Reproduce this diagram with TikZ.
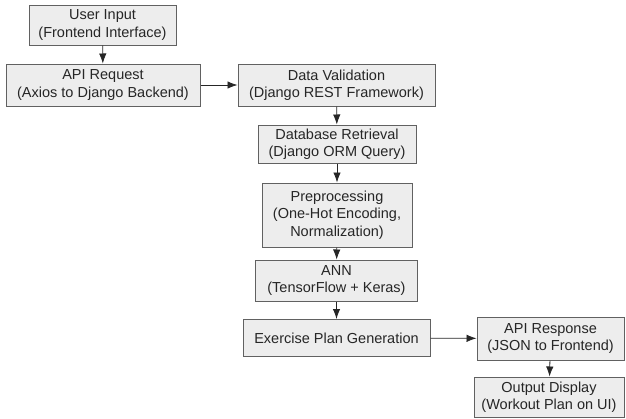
\documentclass[tikz,border=0pt]{standalone}
\usepackage{fontspec}
\setmainfont{Liberation Sans}
\usetikzlibrary{arrows.meta}
\tikzset{
  stage/.style={draw=black!62, line width=1pt, fill=black!7, align=center,
    inner sep=0pt, font=\fontsize{14.5pt}{17.5pt}\selectfont, text=black!85},
  flow/.style={draw=black!85, line width=0.8pt, -{Latex[length=10pt,width=7.5pt]}}
}
\begin{document}
\begin{tikzpicture}[x=1pt,y=1pt]
\useasboundingbox (0,0) rectangle (626,-418);
\node[stage, minimum width=147, minimum height=40] (user) at (102.5,-25) {User Input\\(Frontend Interface)};
\node[stage, minimum width=194, minimum height=42] (req) at (103,-85) {API Request\\(Axios to Django Backend)};
\node[stage, minimum width=197, minimum height=42] (valid) at (336.5,-85) {Data Validation\\(Django REST Framework)};
\node[stage, minimum width=158, minimum height=38] (db) at (337,-144) {Database Retrieval\\(Django ORM Query)};
\node[stage, minimum width=150, minimum height=64] (pre) at (337,-215) {Preprocessing\\(One-Hot Encoding,\\Normalization)};
\node[stage, minimum width=162, minimum height=41] (ann) at (336.5,-280.5) {ANN\\(TensorFlow + Keras)};
\node[stage, minimum width=187, minimum height=37] (plan) at (336.5,-338) {Exercise Plan Generation};
\node[stage, minimum width=147, minimum height=43] (resp) at (550.5,-338.5) {API Response\\(JSON to Frontend)};
\node[stage, minimum width=150, minimum height=40] (out) at (549,-397) {Output Display\\(Workout Plan on UI)};
\draw[flow] (user) -- (req);
\draw[flow] (req) -- (valid);
\draw[flow] (valid) -- (db);
\draw[flow] (db) -- (pre);
\draw[flow] (pre) -- (ann);
\draw[flow] (ann) -- (plan);
\draw[flow] (plan) -- (resp);
\draw[flow] (resp) -- (out);
\end{tikzpicture}
\end{document}
